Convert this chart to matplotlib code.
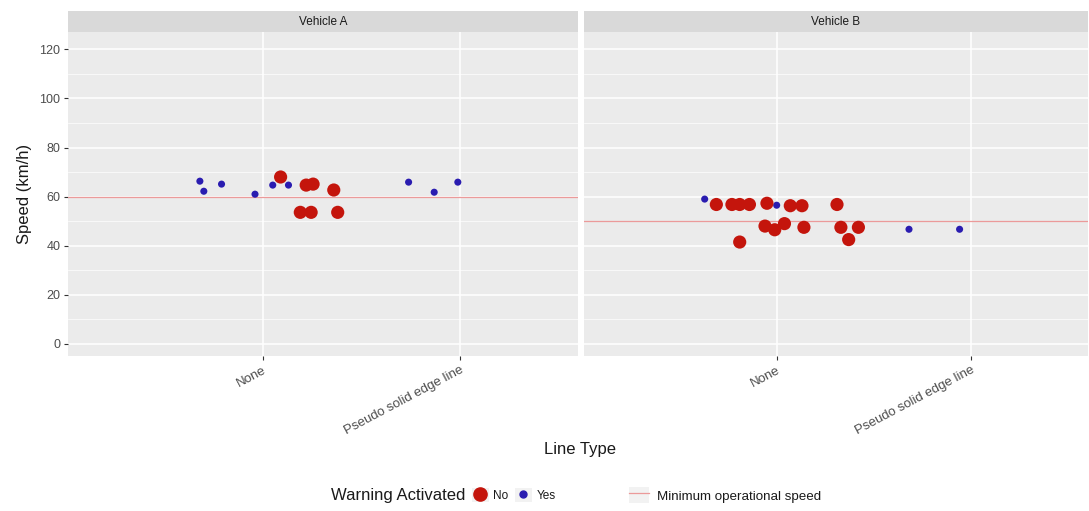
import matplotlib.pyplot as plt
from matplotlib.lines import Line2D
from matplotlib.patches import Patch

plt.rcParams['font.family'] = ['Liberation Sans', 'DejaVu Sans']

categories = ['None', 'Pseudo solid edge line']
panels = ['Vehicle A', 'Vehicle B']
min_speed = {'Vehicle A': 60, 'Vehicle B': 50}

# (line type, jitter offset, speed, warning) per vehicle
vehicle_a_type = ['None'] * 13 + ['Pseudo solid edge line'] * 3
vehicle_a_jitter = [-0.32, -0.30, -0.21, -0.04, 0.05, 0.13,
                    0.09, 0.22, 0.255, 0.36, 0.19, 0.245, 0.38,
                    -0.26, -0.13, -0.01]
vehicle_a_speed = [66.3, 62.2, 65.1, 61.0, 64.7, 64.7,
                   68.0, 64.7, 65.1, 62.7, 53.6, 53.6, 53.6,
                   65.9, 61.8, 65.9]
vehicle_a_warning = ['Yes'] * 6 + ['No'] * 7 + ['Yes'] * 3

vehicle_b_type = ['None'] * 18 + ['Pseudo solid edge line'] * 2
vehicle_b_jitter = [-0.37, 0.0,
                    -0.31, -0.23, -0.19, -0.14, -0.05, 0.07, 0.13, 0.31,
                    -0.06, -0.01, 0.04, 0.14, 0.33, 0.42, 0.37, -0.19,
                    -0.32, -0.06]
vehicle_b_speed = [59.0, 56.5,
                   56.8, 56.8, 56.8, 56.8, 57.3, 56.3, 56.3, 56.8,
                   48.0, 46.5, 49.0, 47.5, 47.5, 47.5, 42.5, 41.5,
                   46.7, 46.7]
vehicle_b_warning = ['Yes'] * 2 + ['No'] * 16 + ['Yes'] * 2

data = {
    'Vehicle A': (vehicle_a_type, vehicle_a_jitter, vehicle_a_speed, vehicle_a_warning),
    'Vehicle B': (vehicle_b_type, vehicle_b_jitter, vehicle_b_speed, vehicle_b_warning),
}

colors = {'No': '#c4150c', 'Yes': '#2a1cb0'}
sizes = {'No': 90, 'Yes': 26}
zorders = {'No': 4, 'Yes': 3}
line_color = '#eb9a9a'
grey_text = '#4d4d4d'
key_bg = '#f2f2f2'

fig = plt.figure(figsize=(10.89, 5.11), dpi=100)

axes_boxes = [(0.0624, 0.303, 0.4683, 0.634), (0.5363, 0.303, 0.4628, 0.634)]
strip_h = 0.041

for name, box in zip(panels, axes_boxes):
    ax = fig.add_axes(box)
    ax.set_facecolor('#ebebeb')
    types, jit, speed, warn = data[name]
    for w in ['Yes', 'No']:
        xs = [categories.index(t) + 1 + j for t, j, ww in zip(types, jit, warn) if ww == w]
        ys = [s for s, ww in zip(speed, warn) if ww == w]
        ax.scatter(xs, ys, s=sizes[w], color=colors[w], edgecolors='none', zorder=zorders[w])
    ax.axhline(min_speed[name], color=line_color, lw=0.9, zorder=2)

    ax.set_xlim(0.01, 2.6)
    ax.set_ylim(-5, 127)
    ax.set_yticks([0, 20, 40, 60, 80, 100, 120])
    ax.set_yticks([10, 30, 50, 70, 90, 110], minor=True)
    ax.set_xticks([1, 2])
    ax.set_xticklabels(categories, rotation=28, ha='right', rotation_mode='anchor', fontsize=9.5)
    ax.grid(which='major', color='white', lw=1.1, zorder=0)
    ax.grid(which='minor', axis='y', color='white', lw=0.5, zorder=0)
    ax.set_axisbelow(True)
    for sp in ax.spines.values():
        sp.set_visible(False)
    ax.tick_params(which='major', length=3, color='#333333', labelsize=9,
                   labelcolor=grey_text, pad=2.5)
    ax.tick_params(axis='x', labelsize=9.5)
    ax.tick_params(which='minor', length=0)
    if name == 'Vehicle A':
        ax.set_ylabel('Speed (km/h)', fontsize=12, color='#1a1a1a', labelpad=5)
    else:
        ax.tick_params(axis='y', which='both', left=False, labelleft=False)

    # facet strip
    sax = fig.add_axes((box[0], box[1] + box[3], box[2], strip_h))
    sax.set_facecolor('#d9d9d9')
    sax.set_xticks([])
    sax.set_yticks([])
    for sp in sax.spines.values():
        sp.set_visible(False)
    sax.text(0.5, 0.5, name, ha='center', va='center', fontsize=8.5, color='#1a1a1a',
             transform=sax.transAxes)

fig.text(0.533, 0.121, 'Line Type', ha='center', va='center', fontsize=12, color='#1a1a1a')

# legend: colour key and reference line key, each on a grey key background
fig.text(0.304, 0.031, 'Warning Activated', ha='left', va='center', fontsize=12, color='#1a1a1a')
point_handles = [
    (Patch(facecolor=key_bg, edgecolor='none'),
     Line2D([], [], ls='none', marker='o', markersize=9.5, color=colors['No'])),
    (Patch(facecolor=key_bg, edgecolor='none'),
     Line2D([], [], ls='none', marker='o', markersize=5, color=colors['Yes'])),
]
leg1 = fig.legend(handles=point_handles, labels=['No', 'Yes'], loc='center left',
                  bbox_to_anchor=(0.433, 0.031), ncol=2, frameon=False, fontsize=8.5,
                  handlelength=1.5, handleheight=1.5, handletextpad=0.35,
                  columnspacing=0.5, borderaxespad=0, borderpad=0)
for t in leg1.get_texts():
    t.set_color('#1a1a1a')
line_handle = [(Patch(facecolor=key_bg, edgecolor='none'),
                Line2D([], [], color=line_color, lw=0.9))]
leg2 = fig.legend(handles=line_handle, labels=['Minimum operational speed'], loc='center left',
                  bbox_to_anchor=(0.578, 0.031), frameon=False, fontsize=9.6,
                  handlelength=1.5, handleheight=1.5, handletextpad=0.6,
                  borderaxespad=0, borderpad=0)
for t in leg2.get_texts():
    t.set_color('#1a1a1a')

fig.savefig('out.png', dpi=100)
